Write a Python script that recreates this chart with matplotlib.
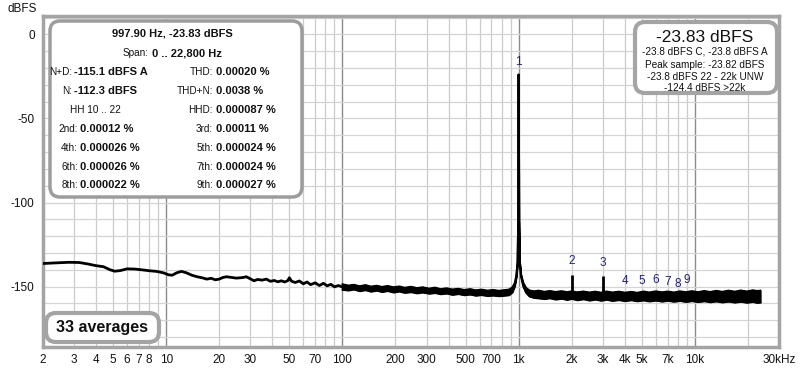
import matplotlib.pyplot as plt
from matplotlib.patches import FancyBboxPatch

plt.rcParams['font.family'] = ['Liberation Sans', 'DejaVu Sans']
plt.rcParams['axes.unicode_minus'] = False

# low frequency part of the spectrum (smooth trace), Hz / dBFS
lf_freq = [2, 2.4, 2.8, 3.2, 3.6, 4.0, 4.4, 4.8, 5.1, 5.5, 6.0, 6.6, 7.2, 8.0, 8.8,
           9.6, 10.3, 10.8, 11.5, 12.2, 13.0, 14.0, 15.0, 16.0, 17.0, 18.0, 19.0,
           20.0, 21.0, 22.0, 23.5, 25.0, 27.0, 28.5, 30.0, 31.5, 33.0, 35.0, 37.0,
           39.0, 41.0, 43.0, 45.0, 47.0, 49.0, 50.0, 51.5, 54.0, 57.0, 60.0, 63.0,
           66.0, 70.0, 74.0, 78.0, 82.0, 86.0, 90.0, 95.0, 100.0]
lf_level = [-136.3, -135.9, -135.6, -135.7, -136.6, -137.6, -138.2, -140.0, -140.9,
            -140.5, -139.5, -139.6, -140.0, -140.6, -141.0, -141.8, -143.0, -143.3,
            -141.8, -141.0, -141.8, -143.3, -144.2, -144.8, -145.6, -145.1, -146.0,
            -145.6, -144.6, -144.2, -144.6, -145.0, -144.7, -144.2, -145.4, -146.6,
            -145.8, -146.2, -145.6, -146.9, -146.4, -147.2, -146.6, -147.3, -146.5,
            -144.8, -146.9, -147.6, -146.7, -148.4, -147.3, -148.9, -147.8, -149.4,
            -148.1, -149.6, -148.7, -150.2, -149.4, -150.3]

# noisy part above 100 Hz: upper / lower edge of the band, incl. the 1 kHz tone
band_freq = [100, 108, 116, 125, 135, 145, 156, 168, 180, 195, 210, 225, 245, 265,
             285, 310, 335, 360, 390, 420, 455, 490, 530, 570, 615, 665, 715, 770,
             830, 880, 920, 950, 970, 985, 993, 996, 997.9, 1000, 1003, 1012, 1030,
             1060, 1100, 1150, 1220, 1300, 1400, 1500, 1620, 1750, 1880, 2000, 2150,
             2330, 2520, 2720, 2930, 3150, 3400, 3700, 4000, 4350, 4700, 5100, 5500,
             6000, 6500, 7000, 7600, 8200, 8900, 9600, 10400, 11300, 12200, 13200,
             14300, 15500, 16800, 18200, 19700, 21300, 22500, 23500]
band_hi = [-148.6, -149.4, -148.9, -149.8, -149.1, -150.0, -149.5, -150.2, -149.6,
           -150.4, -149.9, -150.7, -150.1, -150.9, -150.4, -151.2, -150.6, -151.5,
           -151.0, -151.7, -151.3, -152.0, -151.5, -152.2, -151.8, -152.4, -152.0,
           -152.5, -152.1, -151.8, -150.5, -147.8, -143.0, -135.0, -110.0, -70.0,
           -23.83, -70.0, -110.0, -135.0, -143.0, -147.8, -150.8, -152.3, -152.8,
           -152.4, -153.1, -152.6, -153.2, -152.7, -153.3, -152.8, -153.4, -152.9,
           -153.5, -153.0, -153.6, -152.9, -153.5, -153.0, -153.6, -153.1, -153.7,
           -152.9, -153.5, -152.8, -153.4, -152.9, -153.5, -152.8, -153.3, -152.7,
           -153.3, -152.6, -153.2, -152.5, -153.1, -152.4, -153.0, -152.3, -152.9,
           -152.2, -152.6, -152.4]
band_lo = [-151.8, -152.2, -151.6, -152.6, -152.0, -152.9, -152.3, -153.1, -152.5,
           -153.4, -152.8, -153.6, -153.2, -153.9, -153.4, -154.1, -153.7, -154.4,
           -154.0, -154.8, -154.3, -155.0, -154.6, -155.3, -154.9, -155.5, -155.2,
           -155.6, -155.3, -155.0, -153.3, -149.5, -144.0, -135.5, -110.0, -70.0,
           -23.83, -70.0, -110.0, -135.5, -144.2, -149.8, -153.6, -155.8, -156.6,
           -156.9, -157.3, -156.8, -157.6, -157.1, -157.8, -157.2, -158.0, -157.4,
           -158.2, -157.6, -158.3, -157.7, -158.4, -157.9, -158.5, -158.0, -158.6,
           -158.1, -158.7, -158.2, -158.8, -158.3, -158.9, -158.4, -159.0, -158.5,
           -159.1, -158.6, -159.2, -158.7, -159.3, -158.8, -159.4, -158.9, -159.5,
           -159.0, -159.6, -159.4]

# visible harmonic spikes
spike_freq = [2000, 3000]
spike_level = [-142.9, -143.8]
spike_base = [-155.0, -155.5]

# harmonic markers 1..9
marker_text = ['1', '2', '3', '4', '5', '6', '7', '8', '9']
marker_freq = [997.9, 2000, 3000, 4000, 5000, 6000, 7000, 8000, 9000]
marker_level = [-16.5, -134.9, -135.9, -147.0, -147.0, -146.4, -147.2, -148.4, -146.0]

x_ticks = [2, 3, 4, 5, 6, 7, 8, 10, 20, 30, 50, 70, 100, 200, 300, 500, 700,
           1000, 2000, 3000, 4000, 5000, 7000, 10000, 30000]
x_tick_labels = ['2', '3', '4', '5', '6', '7', '8', '10', '20', '30', '50', '70',
                 '100', '200', '300', '500', '700', '1k', '2k', '3k', '4k', '5k',
                 '7k', '10k', '30kHz']
y_ticks = [0, -50, -100, -150]

W, H = 800, 370
fig = plt.figure(figsize=(8, 3.7), dpi=100)
ax = fig.add_axes([43 / W, 1 - 347 / H, (779 - 43) / W, (347 - 16) / H])
ax.set_xscale('log')
ax.set_xlim(2, 30000)
ax.set_ylim(-186, 11)

# grid
for dec in [1, 10, 100, 1000, 10000]:
    for m in range(1, 10):
        f = dec * m
        if f < 2 or f > 30000:
            continue
        if m == 1:
            ax.axvline(f, color='#8a8a8a', lw=1.0, zorder=1)
        else:
            ax.axvline(f, color='#cbcbcb', lw=0.9, zorder=1)
for y in range(-180, 11, 10):
    ax.axhline(y, color='#d4d4d4', lw=0.9, zorder=1)

# spectrum
ax.plot(lf_freq, lf_level, color='black', lw=2.0, zorder=3, solid_joinstyle='round')
ax.fill_between(band_freq, band_lo, band_hi, color='black', lw=1.2, zorder=3)
ax.plot(band_freq, band_hi, color='black', lw=1.3, zorder=3)
ax.plot(band_freq, band_lo, color='black', lw=1.3, zorder=3)
ax.vlines(spike_freq, spike_base, spike_level, color='black', lw=2.0, zorder=3)

for t, f, v in zip(marker_text, marker_freq, marker_level):
    ax.text(f, v, t, color='#22226e', fontsize=8.5, ha='center', va='center', zorder=4)

ax.set_xticks(x_ticks)
ax.set_xticklabels(x_tick_labels)
ax.xaxis.set_minor_locator(plt.NullLocator())
ax.set_yticks(y_ticks)
ax.tick_params(length=0, labelsize=8.5, colors='#111111')
ax.tick_params(axis='x', pad=5)
ax.tick_params(axis='y', pad=6)
for s in ax.spines.values():
    s.set_color('#a4a4a4')
    s.set_linewidth(2.5)

fig.text(8 / W, 1 - 9 / H, 'dBFS', fontsize=8.5, va='center', ha='left', color='#111111')


def box(x0, y0, x1, y1, lw=2.5, ec='#9c9c9c'):
    p = FancyBboxPatch((x0 / 100, (H - y1) / 100), (x1 - x0) / 100, (y1 - y0) / 100,
                       boxstyle='round,pad=0,rounding_size=0.1',
                       transform=fig.dpi_scale_trans, fc='white', ec=ec, lw=lw)
    fig.add_artist(p)


def txt(x, y, s, ha='left', bold=False, size=8):
    fig.text(x / W, 1 - y / H, s, ha=ha, va='center', fontsize=size,
             fontweight='bold' if bold else 'normal', color='#111111')


# info box top left
lab = 7.2
box(50, 21, 302, 197)
txt(172, 33, '997.90 Hz, -23.83 dBFS', ha='center', bold=True)
txt(149, 53, 'Span:', ha='right', size=lab)
txt(152, 53, '0 .. 22,800 Hz', bold=True)
rows = [
    (72, 72, 'N+D:', '-115.1 dBFS A', 'THD:', '0.00020 %'),
    (91, 72, 'N:', '-112.3 dBFS', 'THD+N:', '0.0038 %'),
    (129, 78, '2nd:', '0.00012 %', '3rd:', '0.00011 %'),
    (148, 78, '4th:', '0.000026 %', '5th:', '0.000024 %'),
    (167, 78, '6th:', '0.000026 %', '7th:', '0.000024 %'),
    (185, 78, '8th:', '0.000022 %', '9th:', '0.000027 %'),
]
for y, xl, l1, v1, l2, v2 in rows:
    txt(xl, y, l1, ha='right', size=lab)
    txt(xl + 2, y, v1, bold=True)
    txt(213, y, l2, ha='right', size=lab)
    txt(216, y, v2, bold=True)
txt(95, 110, 'HH 10 .. 22', ha='center', size=lab)
txt(213, 110, 'HHD:', ha='right', size=lab)
txt(216, 110, '0.000087 %', bold=True)

# level box top right
box(635, 22, 777, 93, lw=3, ec='#a4a4a4')
txt(705, 38, '-23.83 dBFS', ha='center', size=12.5)
txt(705, 52, '-23.8 dBFS C, -23.8 dBFS A', ha='center', size=7.2)
txt(705, 64.5, 'Peak sample: -23.82 dBFS', ha='center', size=7.2)
txt(705, 76.5, '-23.8 dBFS 22 - 22k UNW', ha='center', size=7.2)
txt(705, 88, '-124.4 dBFS >22k', ha='center', size=7.2)

# averages box
box(46, 313, 159, 342, lw=3, ec='#a4a4a4')
txt(102, 327.5, '33 averages', ha='center', bold=True, size=11.5)

fig.savefig('out.png', dpi=100)
